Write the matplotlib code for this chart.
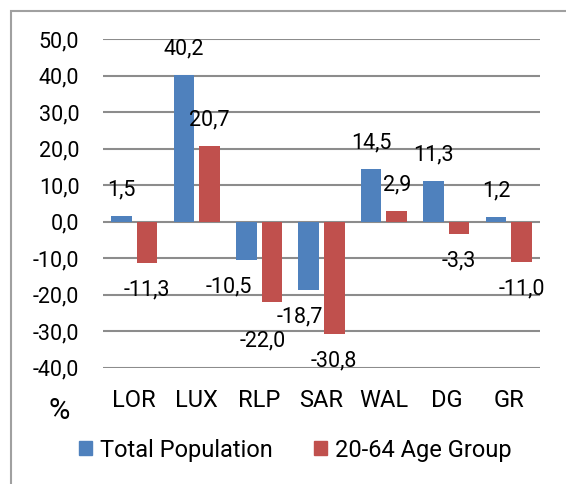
import matplotlib
matplotlib.use("Agg")
import matplotlib.pyplot as plt
import numpy as np
from matplotlib.patches import Patch, Rectangle

regions = ["LOR", "LUX", "RLP", "SAR", "WAL", "DG", "GR"]
total_pop = [1.5, 40.2, -10.5, -18.7, 14.5, 11.3, 1.2]
age_20_64 = [-11.3, 20.7, -22.0, -30.8, 2.9, -3.3, -11.0]
yticks = [-40, -30, -20, -10, 0, 10, 20, 30, 40, 50]

BLUE = "#4F81BD"
RED = "#C0504D"
GRID = "#8C8C8C"
FS = 15.5
FS_CAT = 17

# manual nudges (pixels) for labels the original moved around
nudge_blue = {2: (-17, 0), 3: (-9, 0)}
nudge_red = {2: (-9, -12)}

plt.rcParams["font.family"] = ["Roboto", "DejaVu Sans"]

fig = plt.figure(figsize=(5.66, 4.84), dpi=100)
ax = fig.add_axes([0.182, 0.240, 0.772, 0.679])

x = np.arange(len(regions))
w = 0.33
off = 0.205
ax.bar(x - off, total_pop, w, color=BLUE, zorder=3)
ax.bar(x + off, age_20_64, w, color=RED, zorder=3)

ax.set_xlim(-0.5, len(regions) - 0.5)
ax.set_ylim(-40, 50)
ax.set_yticks(yticks)
ax.set_yticklabels([f"{v:.1f}".replace(".", ",") for v in yticks], fontsize=FS)
ax.set_xticks(x)
ax.set_xticklabels(regions, fontsize=FS_CAT)
ax.tick_params(axis="y", length=0, pad=17)
ax.tick_params(axis="x", length=0, pad=15)
for s in ax.spines.values():
    s.set_visible(False)
ax.grid(axis="y", color=GRID, linewidth=1.5, zorder=0)
ax.set_axisbelow(True)

def px(p):
    return p * 72 / fig.dpi

for vals, shift, nudges in [(total_pop, -off, nudge_blue), (age_20_64, off, nudge_red)]:
    for i, v in enumerate(vals):
        dx, dy = nudges.get(i, (0, 0))
        base = 26 if v >= 0 else -27
        ax.annotate(f"{v:.1f}".replace(".", ","), (i + shift, v),
                    xytext=(px(dx), px(base + dy)), textcoords="offset points",
                    ha="center", va="center", fontsize=FS, zorder=5)

fig.text(59 / 566, 1 - 411 / 484, "%", fontsize=21, ha="center", va="center")

handles = [Patch(color=BLUE, label="Total Population"),
           Patch(color=RED, label="20-64 Age Group")]
fig.legend(handles=handles, loc="center", bbox_to_anchor=(295 / 566, 1 - 450 / 484),
           ncol=2, frameon=False, fontsize=FS_CAT, handlelength=0.55, handleheight=0.55,
           handletextpad=0.34, columnspacing=1.74)

fig.patches.append(Rectangle((11 / 566, -0.1), 1.2, 1 - 11 / 484 + 0.1,
                             transform=fig.transFigure, fill=False,
                             edgecolor="#A0A0A0", linewidth=1.5))

fig.savefig("out.png", dpi=100)
